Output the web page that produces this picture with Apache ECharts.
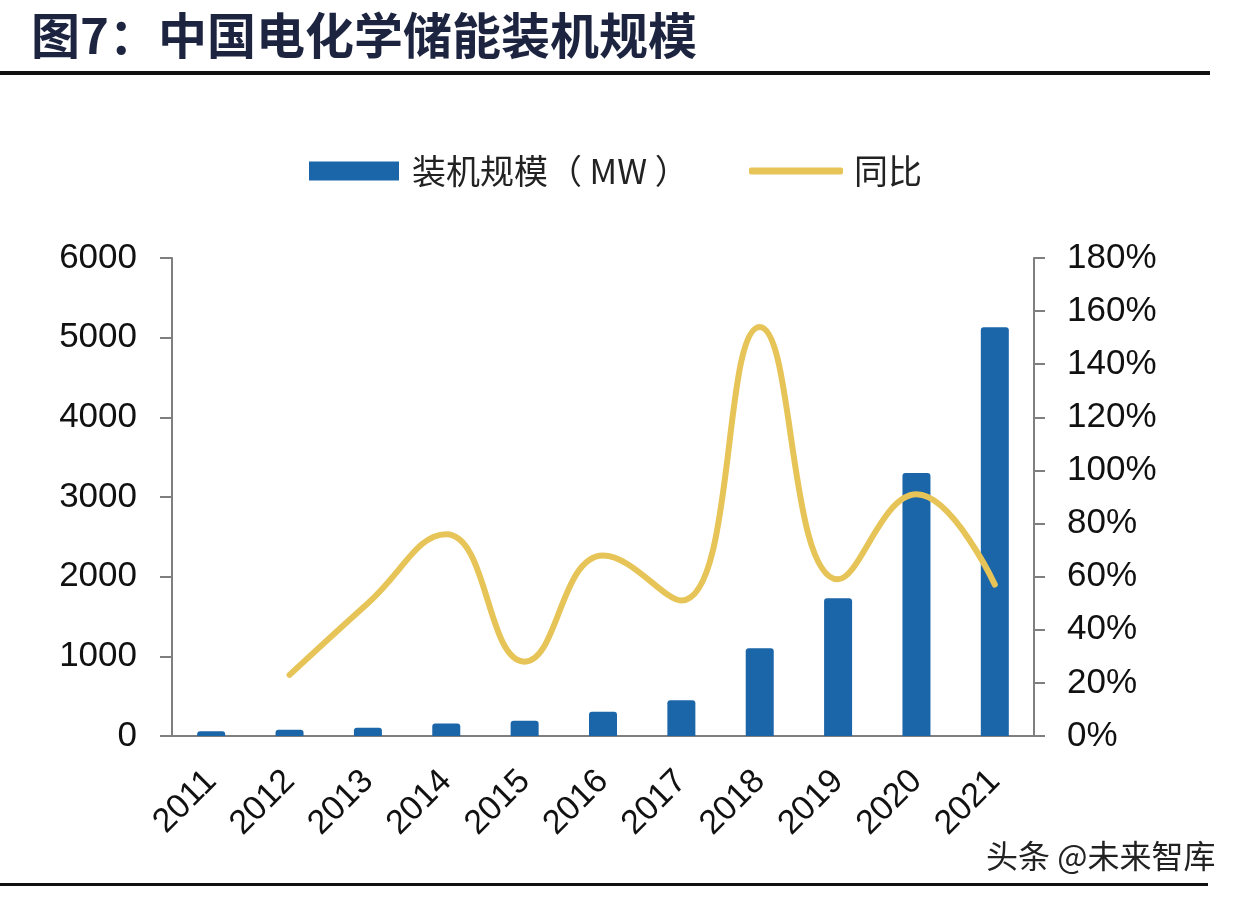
<!DOCTYPE html>
<html>
<head>
<meta charset="utf-8">
<script src="https://cdn.jsdelivr.net/npm/echarts@6/dist/echarts.min.js"></script>
<style>
html,body{margin:0;padding:0;background:#fff;}
#c{width:1240px;height:900px;}
</style>
</head>
<body>
<div id="c"></div>
<script>
const years = ['2011','2012','2013','2014','2015','2016','2017','2018','2019','2020','2021'];
const capacityMW = [60, 78, 104, 158, 192, 305, 448, 1100, 1730, 3300, 5130];
const yoyPct = [null, 23, 50, 76, 28, 68, 51, 154, 59, 91, 57];
const leftTicks = {min: 0, max: 6000, interval: 1000};
const rightTicks = {min: 0, max: 180, interval: 20};

const latin = '"Liberation Sans", Arial, sans-serif';
const cjk = '"Noto Sans CJK SC", "Liberation Sans", sans-serif';
const barColor = '#1B65A9';
const lineColor = '#E6C457';
const axisGrey = '#7f7f7f';

const chart = echarts.init(document.getElementById('c'), null, {renderer: 'canvas'});
chart.setOption({
  backgroundColor: '#ffffff',
  animation: false,
  title: {
    text: '图7：中国电化学储能装机规模',
    left: 26, top: 6,
    textStyle: {fontFamily: cjk, fontSize: 49, fontWeight: 'bold', color: '#1c2440'}
  },
  legend: [{
    data: ['装机规模（MW）'],
    left: 309, top: 154, padding: 0,
    icon: 'rect', itemWidth: 90, itemHeight: 19,
    formatter: () => '装机规模（ MW ）',
    textStyle: {fontFamily: cjk, fontSize: 34, color: '#222', padding: [0, 0, 0, 8]}
  }, {
    data: ['同比'],
    left: 749, top: 154, padding: 0,
    icon: 'roundRect', itemWidth: 94, itemHeight: 7,
    textStyle: {fontFamily: cjk, fontSize: 34, color: '#222', padding: [0, 0, 0, 6]}
  }],
  grid: {left: 172, right: 206, top: 258, bottom: 164, containLabel: false},
  xAxis: {
    type: 'category',
    data: years,
    boundaryGap: true,
    axisLine: {lineStyle: {color: axisGrey, width: 2}},
    axisTick: {show: false},
    axisLabel: {rotate: 45, margin: 40, fontFamily: latin, fontSize: 34, color: '#111', interval: 0}
  },
  yAxis: [{
    type: 'value',
    min: leftTicks.min, max: leftTicks.max, interval: leftTicks.interval,
    position: 'left',
    axisLine: {show: true, lineStyle: {color: axisGrey, width: 2}},
    axisTick: {show: true, length: 12, lineStyle: {color: axisGrey, width: 2}},
    splitLine: {show: false},
    axisLabel: {margin: 35, fontFamily: latin, fontSize: 35, color: '#111', formatter: (v) => String(v)}
  }, {
    type: 'value',
    min: rightTicks.min, max: rightTicks.max, interval: rightTicks.interval,
    position: 'right',
    axisLine: {show: true, lineStyle: {color: axisGrey, width: 2}},
    axisTick: {show: true, length: 11, lineStyle: {color: axisGrey, width: 2}},
    splitLine: {show: false},
    axisLabel: {margin: 33, fontFamily: latin, fontSize: 35, color: '#111', formatter: '{value}%'}
  }],
  series: [{
    name: '装机规模（MW）',
    type: 'bar',
    data: capacityMW,
    barWidth: 28,
    itemStyle: {color: barColor, borderRadius: [3, 3, 0, 0]}
  }, {
    name: '同比',
    type: 'line',
    yAxisIndex: 1,
    data: yoyPct,
    smooth: 0.45,
    showSymbol: false,
    symbol: 'none',
    connectNulls: false,
    lineStyle: {color: lineColor, width: 6, cap: 'round'},
    itemStyle: {color: lineColor}
  }],
  graphic: [
    {type: 'rect', shape: {x: 0, y: 71, width: 1210, height: 4}, style: {fill: '#111'}, silent: true},
    {type: 'rect', shape: {x: 0, y: 883, width: 1208, height: 3}, style: {fill: '#111'}, silent: true},
    {type: 'text', left: 986, top: 840, style: {text: '头条 @未来智库', font: '32px "Noto Sans CJK SC"', fill: '#222'}, silent: true}
  ]
});
</script>
</body>
</html>
